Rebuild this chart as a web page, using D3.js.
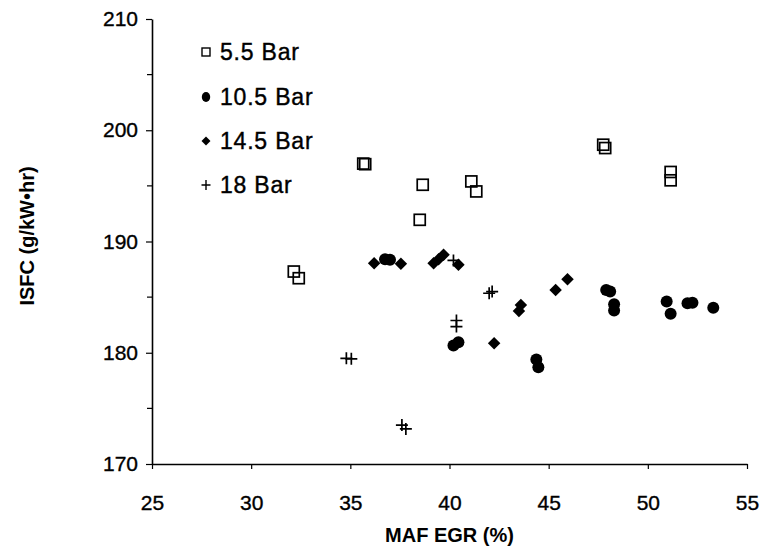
<!DOCTYPE html>
<html>
<head>
<meta charset="utf-8">
<script src="https://cdn.jsdelivr.net/npm/d3@7"></script>
<style>
  body { margin: 0; background: #fff; }
  text { font-family: "Liberation Sans", Arial, sans-serif; fill: #000; }
</style>
</head>
<body>
<div id="chart"></div>
<script>
// 5.5 Bar (open squares)
const bar55 = [
  [32.15, 187.3], [32.4, 186.7], [35.65, 197.0], [35.75, 196.95],
  [38.5, 191.95], [38.65, 195.1], [41.1, 195.4], [41.35, 194.5],
  [47.75, 198.7], [47.85, 198.4], [51.15, 196.25], [51.15, 195.5]
];
// 10.5 Bar (filled circles)
const bar105 = [
  [36.75, 188.4], [37.0, 188.35], [40.2, 180.65], [40.45, 180.95],
  [44.38, 179.4], [44.48, 178.7], [47.9, 185.65], [48.1, 185.5],
  [48.3, 184.35], [48.3, 183.8], [50.95, 184.6], [51.15, 183.5],
  [52.0, 184.45], [52.25, 184.5], [53.3, 184.05]
];
// 14.5 Bar (filled diamonds)
const bar145 = [
  [36.2, 188.05], [37.55, 188.0], [39.2, 188.05], [39.45, 188.4],
  [39.7, 188.8], [40.45, 187.9], [42.25, 180.85], [43.6, 184.3],
  [43.5, 183.75], [45.35, 185.65], [45.95, 186.6]
];
// 18 Bar (plus signs)
const bar18 = [
  [34.8, 179.5], [35.05, 179.45], [37.6, 173.5], [37.8, 173.15],
  [40.2, 188.3], [40.35, 182.9], [40.35, 182.35], [42.0, 185.35],
  [42.15, 185.5]
];

const seriesNames = ["5.5 Bar", "10.5 Bar", "14.5 Bar", "18 Bar"];
const xTicks = [25, 30, 35, 40, 45, 50, 55];
const yTicks = [170, 180, 190, 200, 210];
const yMinorTicks = [175, 185, 195, 205];

const W = 765, H = 549;
const margin = { top: 19, right: 18, bottom: 85, left: 152 };
const w = W - margin.left - margin.right;
const h = H - margin.top - margin.bottom;

const svg = d3.select("#chart").append("svg")
  .attr("width", W)
  .attr("height", H);

const g = svg.append("g")
  .attr("transform", "translate(" + margin.left + "," + margin.top + ")");

const x = d3.scaleLinear().domain([25, 55]).range([0, w]);
const y = d3.scaleLinear().domain([170, 210]).range([h, 0]);

// Axes
const xAxis = g.append("g")
  .attr("transform", "translate(0," + h + ")")
  .call(d3.axisBottom(x).tickValues(xTicks).tickSize(5).tickPadding(26).tickSizeOuter(0));

const yAxis = g.append("g")
  .call(d3.axisLeft(y).tickValues(yTicks).tickSize(6).tickPadding(8).tickSizeOuter(0));

// minor ticks on the y axis
yAxis.selectAll(".minor")
  .data(yMinorTicks)
  .enter().append("line")
    .attr("class", "minor")
    .attr("x1", -5)
    .attr("x2", 0)
    .attr("y1", d => y(d))
    .attr("y2", d => y(d))
    .attr("stroke", "#000");

[xAxis, yAxis].forEach(a => {
  a.selectAll("text")
    .attr("font-size", 21)
    .attr("font-family", "Liberation Sans, Arial, sans-serif")
    .attr("fill", "#000")
    .attr("stroke", "#000")
    .attr("stroke-width", 0.35);
  a.select(".domain").attr("stroke", "#000").attr("stroke-width", 1.6);
  a.selectAll("line").attr("stroke", "#000").attr("stroke-width", 1.2);
});

// Axis titles
svg.append("text")
  .attr("x", margin.left + w / 2)
  .attr("y", 542)
  .attr("text-anchor", "middle")
  .attr("font-size", 20)
  .attr("font-weight", "bold")
  .text("MAF EGR (%)");

svg.append("text")
  .attr("transform", "translate(34," + 236 + ") rotate(-90)")
  .attr("text-anchor", "middle")
  .attr("font-size", 20)
  .attr("font-weight", "bold")
  .text("ISFC (g/kW\u2022hr)");

// Markers
const plot = g.append("g");

plot.selectAll(".sq")
  .data(bar55)
  .enter().append("rect")
    .attr("class", "sq")
    .attr("x", d => x(d[0]) - 5.5)
    .attr("y", d => y(d[1]) - 5.5)
    .attr("width", 11)
    .attr("height", 11)
    .attr("fill", "none")
    .attr("stroke", "#000")
    .attr("stroke-width", 1.7);

plot.selectAll(".ci")
  .data(bar105)
  .enter().append("circle")
    .attr("class", "ci")
    .attr("cx", d => x(d[0]))
    .attr("cy", d => y(d[1]))
    .attr("r", 6)
    .attr("fill", "#000");

// diamonds: squares turned by 45 degrees
const diamond = d3.symbol().type(d3.symbolSquare).size(78);
plot.selectAll(".di")
  .data(bar145)
  .enter().append("path")
    .attr("class", "di")
    .attr("transform", d => "translate(" + x(d[0]) + "," + y(d[1]) + ") rotate(45)")
    .attr("d", diamond)
    .attr("fill", "#000");

plot.selectAll(".pl")
  .data(bar18)
  .enter().append("path")
    .attr("class", "pl")
    .attr("transform", d => "translate(" + x(d[0]) + "," + y(d[1]) + ")")
    .attr("d", "M-6,0H6M0,-6V6")
    .attr("stroke", "#000")
    .attr("stroke-width", 1.7)
    .attr("fill", "none");

// Legend
const legend = svg.append("g").attr("transform", "translate(206,0)");
const rowY = [52, 97, 141, 185];

legend.append("rect")
  .attr("x", -4).attr("y", rowY[0] - 4).attr("width", 8).attr("height", 8)
  .attr("fill", "none").attr("stroke", "#000").attr("stroke-width", 1.4);
legend.append("ellipse")
  .attr("cx", 0).attr("cy", rowY[1]).attr("rx", 4.2).attr("ry", 5).attr("fill", "#000");
legend.append("path")
  .attr("transform", "translate(0," + rowY[2] + ") rotate(45)")
  .attr("d", d3.symbol().type(d3.symbolSquare).size(40))
  .attr("fill", "#000");
legend.append("path")
  .attr("transform", "translate(0," + rowY[3] + ")")
  .attr("d", "M-4.5,0H4.5M0,-5V5")
  .attr("stroke", "#000").attr("stroke-width", 1.4);

legend.selectAll(".lt")
  .data(seriesNames)
  .enter().append("text")
    .attr("class", "lt")
    .attr("x", 14)
    .attr("y", (d, i) => rowY[i])
    .attr("dy", "0.36em")
    .attr("font-size", 23)
    .attr("letter-spacing", 0.8)
    .attr("stroke", "#000")
    .attr("stroke-width", 0.4)
    .text(d => d);
</script>
</body>
</html>
